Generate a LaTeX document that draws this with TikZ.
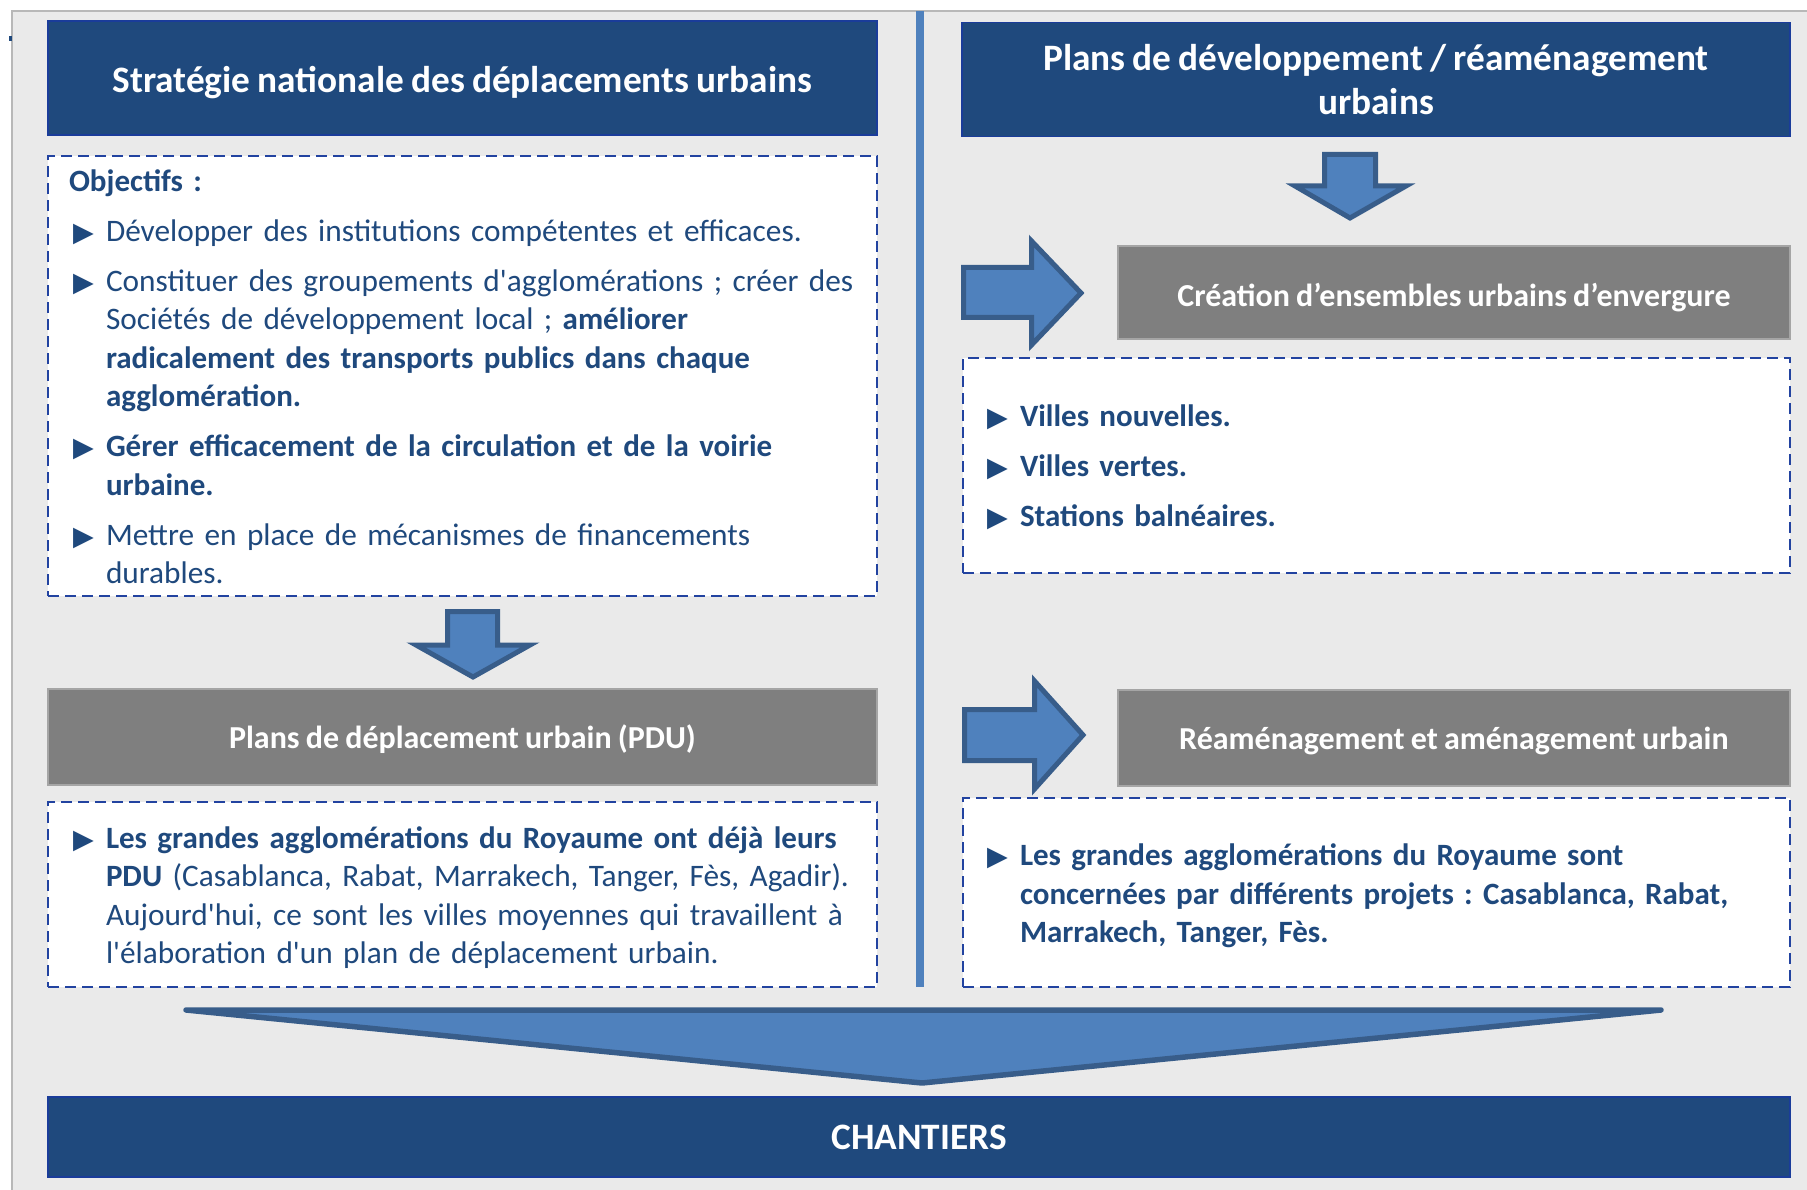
\documentclass[tikz,border=0pt]{standalone}
\usepackage{fontspec}
\setmainfont{Carlito}[BoldFeatures={WordSpace=0.85}]
\newfontfamily\symf{DejaVu Sans}
\definecolor{navy}{HTML}{1F497D}
\definecolor{titleedge}{HTML}{1A3C9A}
\definecolor{boxgray}{HTML}{7F7F7F}
\definecolor{grayedge}{HTML}{A5A5A5}
\definecolor{dashblue}{HTML}{2243A0}
\definecolor{arrowfill}{HTML}{4F81BD}
\definecolor{arrowedge}{HTML}{385D8A}
\definecolor{bgpanel}{HTML}{EAEAEA}
\definecolor{bgedge}{HTML}{B8B8B8}
\newcommand\titlefont{\fontsize{37.3}{44}\selectfont\bfseries}
\newcommand\grayfont{\fontsize{32}{38}\selectfont\bfseries}
\newcommand\bodyfont{\fontsize{31.3}{38.5}\selectfont}
\newcommand\boldfont{\fontsize{31.0}{38.5}\selectfont\bfseries}
\newcommand\B[1]{{\boldfont #1}}
\newcommand\bul{{\symf\fontsize{27}{27}\selectfont ▶}}
\newcommand\firstitm{\hangindent=37pt\hangafter=1\noindent\makebox[37pt][l]{\hspace{4pt}\bul}}
\newcommand\itm{\par\firstitm}
\newcommand\ap{\textquotesingle}
\newcommand\setup{\frenchspacing\setlength{\parskip}{11.5pt}\rightskip=0pt plus 1fil\relax}
\begin{document}
\begin{tikzpicture}[x=1pt,y=-1pt,
  titlebox/.style={fill=navy, draw=titleedge, line width=1.5pt, text=white, font=\titlefont,
    inner sep=0pt, outer sep=0pt, align=center},
  onelinetitle/.style={text height=33pt, text depth=4pt},
  graybox/.style={fill=boxgray, draw=grayedge, line width=1.5pt, text=white, font=\grayfont,
    inner sep=0pt, outer sep=0pt, align=center, text height=29pt, text depth=7pt},
  dbox/.style={fill=white, draw=dashblue, line width=2.2pt, dash pattern=on 11pt off 6pt,
    inner sep=0pt, outer sep=0pt},
  btext/.style={anchor=base west, inner sep=0pt, outer sep=0pt, text width=#1, align=left,
    text=navy, font=\bodyfont},
  blockarrow/.style={fill=arrowfill, draw=arrowedge, line width=5pt, line join=miter}
]
\useasboundingbox (0,0) rectangle (1807,1190);
% background panel
\fill[white] (0,0) rectangle (1807,1190);
\fill[bgpanel] (11,10) rectangle (1807,1190);
\draw[bgedge, line width=2.5pt] (12,1190) -- (12,11) -- (1807,11);
\fill[navy] (9,36) rectangle (11.5,41);
\fill[navy!80] (1468,0) arc[start angle=180, end angle=360, x radius=8, y radius=3] -- cycle;

% divider
\fill[arrowfill] (916,11) rectangle (924,987);

% left column
\node[titlebox, onelinetitle, minimum width=829pt, minimum height=114pt] (strat) at (462.5,78)
  {Stratégie nationale des déplacements urbains};
\node[dbox, minimum width=829pt, minimum height=440pt] (obj) at (462.5,376) {};
\node[btext=820pt] (objtxt) at (69,191.5) {\setup
  \B{Objectifs :}%
  \itm Développer des institutions compétentes et efficaces.%
  \itm Constituer des groupements d\ap agglomérations ; créer des\newline
  Sociétés de développement local ; \B{améliorer\newline
  radicalement des transports publics dans chaque\newline
  agglomération.}%
  \itm \B{Gérer efficacement de la circulation et de la voirie\newline
  urbaine.}%
  \itm Mettre en place de mécanismes de financements\newline
  durables.\par};

\node[graybox, minimum width=829pt, minimum height=96pt] (pdu) at (462.5,737)
  {Plans de déplacement urbain (PDU)};
\node[dbox, minimum width=829pt, minimum height=185pt] (pdubox) at (462.5,894.5) {};
\node[btext=820pt] (pdutxt) at (69,848) {\setup
  \firstitm \B{Les grandes agglomérations du Royaume ont déjà leurs\newline
  PDU} (Casablanca, Rabat, Marrakech, Tanger, Fès, Agadir).\newline
  Aujourd\ap hui, ce sont les villes moyennes qui travaillent à\newline
  l\ap élaboration d\ap un plan de déplacement urbain.\par};

% right column
\node[titlebox, minimum width=828pt, minimum height=114pt] (plans) at (1376,79.5)
  {Plans de développement / réaménagement\\urbains};
\node[graybox, minimum width=672pt, minimum height=93pt, text height=32pt, text depth=5pt] (creation)
  at (1454,292.5) {Création d’ensembles urbains d’envergure};
\node[dbox, minimum width=827pt, minimum height=215pt] (villes) at (1376.5,465.5) {};
\node[btext=790pt, font=\boldfont] (villestxt) at (983,426.5) {\setup
  \firstitm Villes nouvelles.%
  \itm Villes vertes.%
  \itm Stations balnéaires.\par};

\node[graybox, minimum width=672pt, minimum height=96pt] (ream) at (1454,738)
  {Réaménagement et aménagement urbain};
\node[dbox, minimum width=827pt, minimum height=189pt] (reambox) at (1376.5,892.5) {};
\node[btext=790pt, font=\boldfont] (reamtxt) at (983,865.5) {\setup
  \firstitm Les grandes agglomérations du Royaume sont\newline
  concernées par différents projets : Casablanca, Rabat,\newline
  Marrakech, Tanger, Fès.\par};

% block arrows
\draw[blockarrow] (447.5,611.5) -- (497.5,611.5) -- (497.5,645) -- (530,645) -- (473,677)
  -- (416,645) -- (447.5,645) -- cycle;
\draw[blockarrow] (1324.5,154.5) -- (1375.5,154.5) -- (1375.5,186) -- (1406,186) -- (1350,218)
  -- (1295,186) -- (1324.5,186) -- cycle;
\draw[blockarrow] (963.5,267.5) -- (1031.5,267.5) -- (1031.5,241) -- (1081,293) -- (1031.5,345)
  -- (1031.5,317.5) -- (963.5,317.5) -- cycle;
\draw[blockarrow] (964.5,709.5) -- (1034.5,709.5) -- (1034.5,681) -- (1083,735) -- (1034.5,789)
  -- (1034.5,760.5) -- (964.5,760.5) -- cycle;

% big funnel
\draw[blockarrow, line width=5.5pt, line join=round, line cap=round]
  (186,1010) -- (1661,1010) -- (922,1083) -- cycle;

\node[titlebox, minimum width=1742pt, minimum height=80pt, text height=30pt, text depth=5pt]
  (chantiers) at (919,1137) {CHANTIERS};
\end{tikzpicture}
\end{document}
